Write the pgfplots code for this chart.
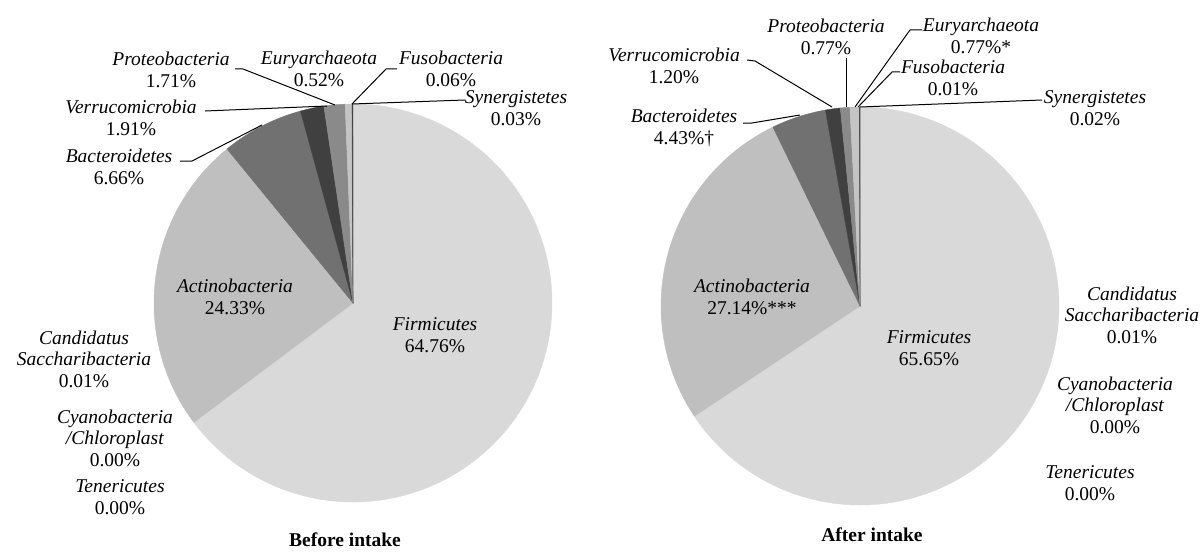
\documentclass[border=0pt]{standalone}
\usepackage{pgfplots}
\usepackage{pgfplotstable}
\pgfplotsset{compat=1.18}
\usepackage{fontspec}
\setmainfont{Liberation Serif}

\definecolor{cFirm}{HTML}{D9D9D9}
\definecolor{cActi}{HTML}{BFBFBF}
\definecolor{cBact}{HTML}{717171}
\definecolor{cVerr}{HTML}{404040}
\definecolor{cProt}{HTML}{8A8A8A}
\definecolor{cEury}{HTML}{C4C4C4}
\definecolor{cFuso}{HTML}{A6A6A6}
\definecolor{cSyne}{HTML}{595959}
\definecolor{cCand}{HTML}{262626}
\definecolor{cCyan}{HTML}{7F7F7F}
\definecolor{cTene}{HTML}{F2F2F2}

% percentages of each phylum, clockwise from 12 o'clock
\pgfplotstableread{
phylum value col
Firmicutes 64.76 cFirm
Actinobacteria 24.33 cActi
Bacteroidetes 6.66 cBact
Verrucomicrobia 1.91 cVerr
Proteobacteria 1.71 cProt
Euryarchaeota 0.52 cEury
Fusobacteria 0.06 cFuso
Synergistetes 0.03 cSyne
Candidatus_Saccharibacteria 0.01 cCand
Cyanobacteria/Chloroplast 0.00 cCyan
Tenericutes 0.00 cTene
}\before

\pgfplotstableread{
phylum value col
Firmicutes 65.65 cFirm
Actinobacteria 27.14 cActi
Bacteroidetes 4.43 cBact
Verrucomicrobia 1.20 cVerr
Proteobacteria 0.77 cProt
Euryarchaeota 0.77 cEury
Fusobacteria 0.01 cFuso
Synergistetes 0.02 cSyne
Candidatus_Saccharibacteria 0.01 cCand
Cyanobacteria/Chloroplast 0.00 cCyan
Tenericutes 0.00 cTene
}\after

% #1 table, #2 centre x, #3 centre y (pixels, y downwards), #4 radius
\newcommand\drawpie[4]{%
  \pgfplotstablegetrowsof{#1}%
  \pgfmathtruncatemacro\pieLast{\pgfplotsretval-1}%
  \def\pieAcc{0}%
  \pgfplotsforeachungrouped \pieI in {0,...,\pieLast}{%
    \pgfplotstablegetelem{\pieI}{value}\of#1\let\pieV\pgfplotsretval
    \pgfplotstablegetelem{\pieI}{col}\of#1\let\pieCol\pgfplotsretval
    \pgfmathsetmacro\pieS{90-3.6*\pieAcc}%
    \pgfmathsetmacro\pieAcc{\pieAcc+\pieV}%
    \pgfmathsetmacro\pieE{90-3.6*\pieAcc}%
    \pgfmathtruncatemacro\piePos{\pieV>0 ? 1 : 0}%
    \ifnum\piePos=1
      \edef\pieTemp{\noexpand\addplot[fill=\pieCol, draw=\pieCol, line width=0.2pt,
        domain=\pieE:\pieS, samples=200]
        ({#2+#4*cos(x)},{#3-#4*sin(x)}) -- (axis cs:#2,#3) -- cycle;}%
      \pieTemp
    \fi
  }%
}

\newcommand\lbl{\fontsize{9.75}{10.75}\selectfont}
\tikzset{lab/.style={align=center, font=\lbl, inner sep=0pt},
         lead/.style={line width=0.5pt, black}}

\begin{document}
\begin{tikzpicture}
\begin{axis}[
  width=601pt, height=277.5pt, scale only axis,
  xmin=0, xmax=1202, ymin=0, ymax=555, y dir=reverse,
  hide axis, clip=false,
]
\drawpie{\before}{353}{303}{199}
\drawpie{\after}{860}{306}{199}

% ---------- left pie labels ----------
\node[lab] at (axis cs:171,70) {\textit{Proteobacteria}\\1.71\%};
\node[lab] at (axis cs:319,69) {\textit{Euryarchaeota}\\0.52\%};
\node[lab] at (axis cs:451,69) {\textit{Fusobacteria}\\0.06\%};
\node[lab] at (axis cs:516,108) {\textit{Synergistetes}\\0.03\%};
\node[lab] at (axis cs:131,118) {\textit{Verrucomicrobia}\\1.91\%};
\node[lab] at (axis cs:119,167) {\textit{Bacteroidetes}\\6.66\%};
\node[lab] at (axis cs:84,359) {\textit{Candidatus}\\\textit{Saccharibacteria}\\0.01\%};
\node[lab] at (axis cs:115,438) {\textit{Cyanobacteria}\\\textit{/Chloroplast}\\0.00\%};
\node[lab] at (axis cs:120,497) {\textit{Tenericutes}\\0.00\%};
\node[lab] at (axis cs:235,297) {\textit{Actinobacteria}\\24.33\%};
\node[lab] at (axis cs:435,335) {\textit{Firmicutes}\\64.76\%};

\draw[lead] (axis cs:235,69) -- (axis cs:243,69) -- (axis cs:335,105);
\draw[lead] (axis cs:205,111) -- (axis cs:327,106);
\draw[lead] (axis cs:180,161) -- (axis cs:192,161) -- (axis cs:262,125);
\draw[lead] (axis cs:397,69) -- (axis cs:386,69) -- (axis cs:352,104);
\draw[lead] (axis cs:352,104) -- (axis cs:465,100);

% ---------- right pie labels ----------
\node[lab] at (axis cs:674,66) {\textit{Verrucomicrobia}\\1.20\%};
\node[lab] at (axis cs:826,37) {\textit{Proteobacteria}\\0.77\%};
\node[lab] at (axis cs:981,36) {\textit{Euryarchaeota}\\0.77\%*};
\node[lab] at (axis cs:953,78) {\textit{Fusobacteria}\\0.01\%};
\node[lab] at (axis cs:1095,108) {\textit{Synergistetes}\\0.02\%};
\node[lab] at (axis cs:684,128) {\textit{Bacteroidetes}\\4.43\%†};
\node[lab] at (axis cs:752,297) {\textit{Actinobacteria}\\27.14\%***};
\node[lab] at (axis cs:929,348) {\textit{Firmicutes}\\65.65\%};
\node[lab] at (axis cs:1132,315) {\textit{Candidatus}\\\textit{Saccharibacteria}\\0.01\%};
\node[lab] at (axis cs:1115,405) {\textit{Cyanobacteria}\\\textit{/Chloroplast}\\0.00\%};
\node[lab] at (axis cs:1090,483) {\textit{Tenericutes}\\0.00\%};

\draw[lead] (axis cs:747,60) -- (axis cs:755,61) -- (axis cs:832,107);
\draw[lead] (axis cs:846,58) -- (axis cs:846,107);
\draw[lead] (axis cs:922,30) -- (axis cs:910,30) -- (axis cs:855,107);
\draw[lead] (axis cs:900,72) -- (axis cs:892,72) -- (axis cs:858,107);
\draw[lead] (axis cs:860,107) -- (axis cs:1042,100);
\draw[lead] (axis cs:743,123) -- (axis cs:752,123) -- (axis cs:800,115);

% ---------- titles ----------
\node[lab, font=\lbl\bfseries] at (axis cs:345,540) {Before intake};
\node[lab, font=\lbl\bfseries] at (axis cs:872,535) {After intake};
\end{axis}
\pgfresetboundingbox
\path (current axis.south west) rectangle (current axis.north east);
\end{tikzpicture}
\end{document}
